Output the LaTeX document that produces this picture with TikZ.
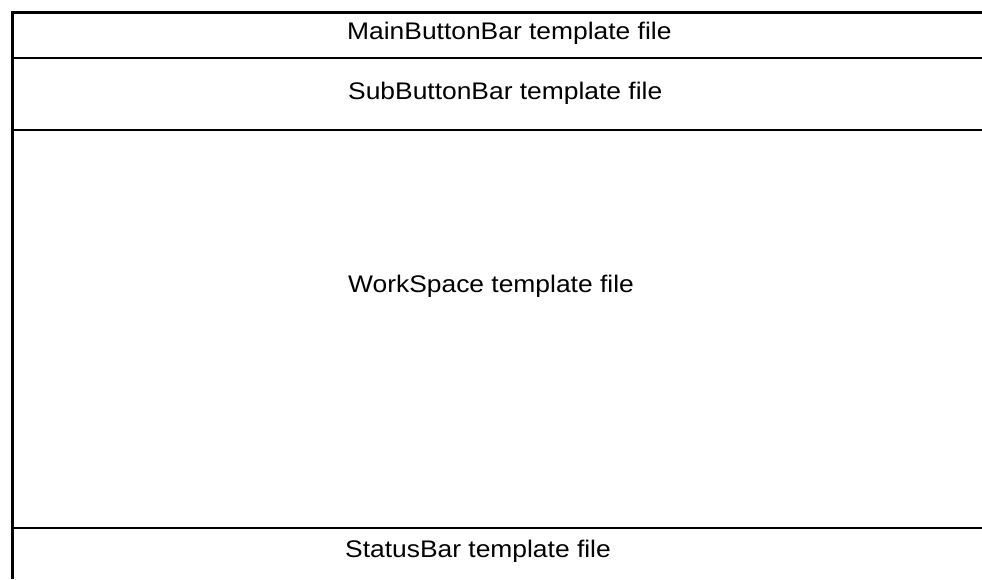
\documentclass[tikz,border=0pt]{standalone}
\usepackage{fontspec}
\usepackage{graphicx}
\setmainfont{Liberation Sans}
\tikzset{
  outer/.style={line width=3pt, line join=miter},
  rule/.style={line width=2.3pt},
  cell/.style={anchor=base west, inner sep=0pt, font=\fontsize{24}{28}\selectfont},
}
\newcommand{\celltext}[1]{\scalebox{1.1}[1]{#1}}
\begin{document}
\begin{tikzpicture}[x=1pt, y=-1pt]
  \useasboundingbox (0,0) rectangle (982,579);
  % frame: left edge and top edge
  \draw[outer] (12,579) -- (12,12) -- (982,12);
  % row separators
  \draw[rule] (12,58) -- (982,58);
  \draw[rule] (12,130) -- (982,130);
  \draw[rule] (12,528) -- (982,528);
  % row labels
  \node[cell] (main)   at (347,39.5)  {\celltext{MainButtonBar template file}};
  \node[cell] (sub)    at (348,99.5)  {\celltext{SubButtonBar template file}};
  \node[cell] (work)   at (348,292) {\celltext{WorkSpace template file}};
  \node[cell] (status) at (345,557.5) {\celltext{StatusBar template file}};
\end{tikzpicture}
\end{document}
